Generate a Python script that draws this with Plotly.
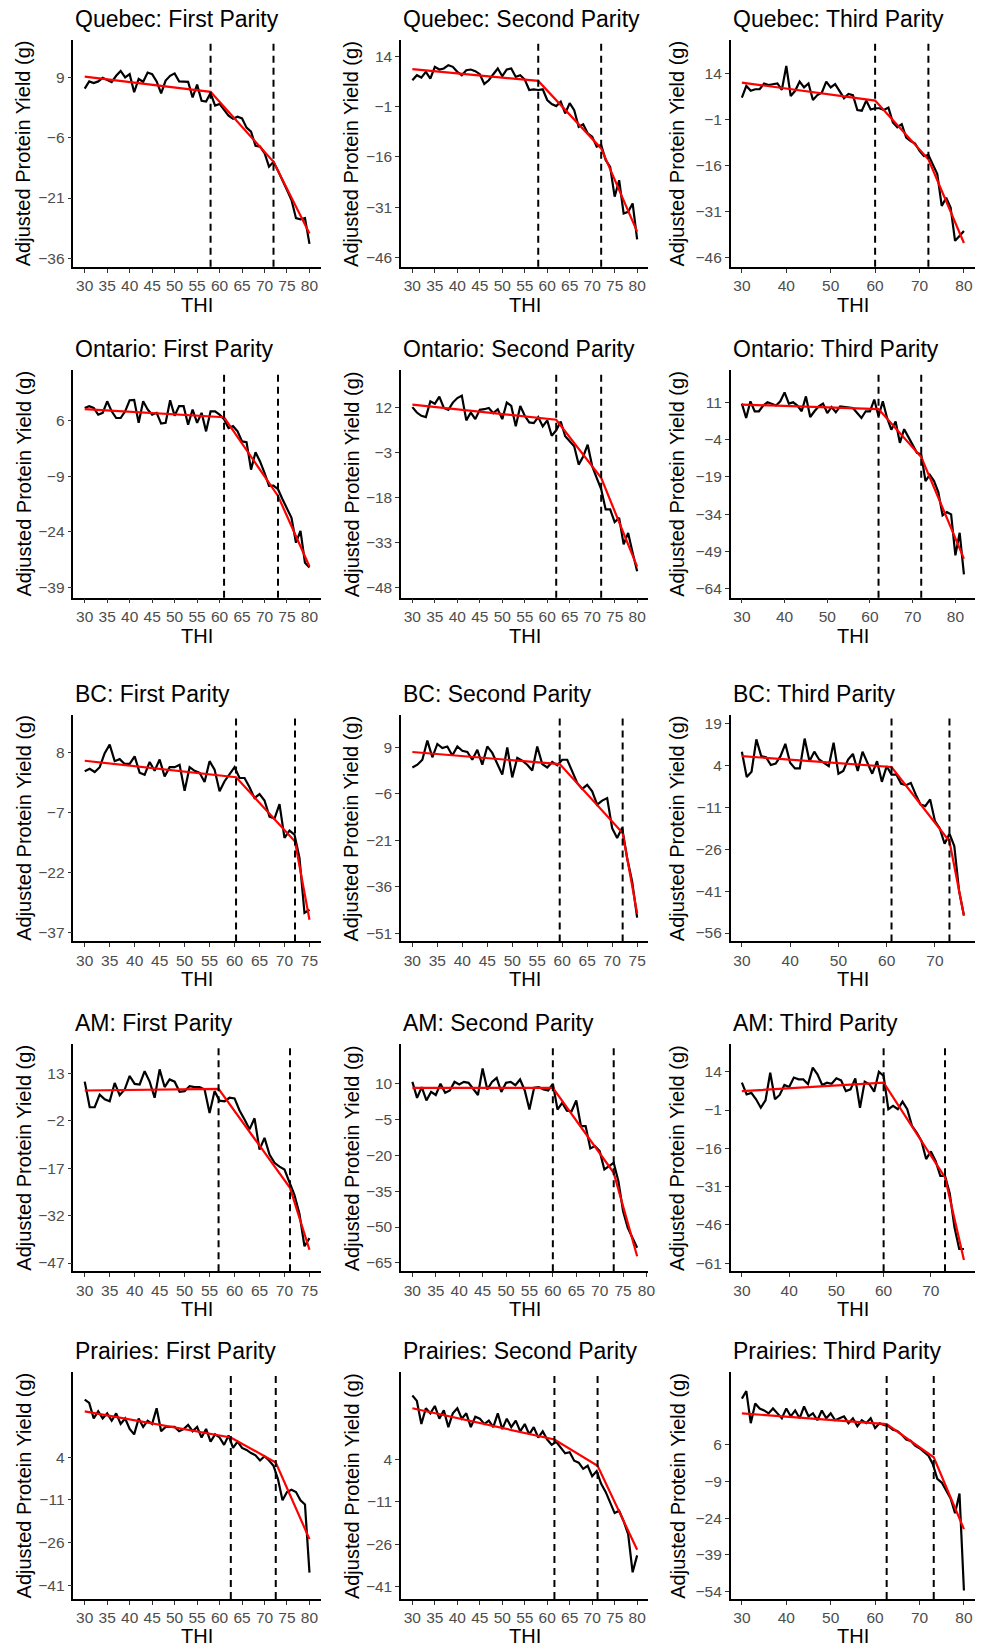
import plotly.graph_objects as go

# ---------------- data ----------------
thi_30_80 = list(range(30, 81))
thi_30_82 = list(range(30, 83))
thi_30_75 = list(range(30, 76))
thi_30_76 = list(range(30, 77))
thi_30_77 = list(range(30, 78))
thi_30_78 = list(range(30, 79))

titles = ["Quebec: First Parity", "Quebec: Second Parity", "Quebec: Third Parity",
          "Ontario: First Parity", "Ontario: Second Parity", "Ontario: Third Parity",
          "BC: First Parity", "BC: Second Parity", "BC: Third Parity",
          "AM: First Parity", "AM: Second Parity", "AM: Third Parity",
          "Prairies: First Parity", "Prairies: Second Parity", "Prairies: Third Parity"]

quebec_first = [6.2, 8.0, 7.6, 8.0, 8.9, 8.4, 7.8, 9.4, 10.6, 9.0,
                9.8, 5.3, 8.6, 7.9, 10.2, 9.8, 8.0, 5.0, 8.2, 9.4,
                10.0, 8.0, 8.0, 7.9, 4.0, 7.2, 3.2, 3.0, 5.1, 2.0,
                2.4, 1.0, -0.5, -1.3, -0.8, -1.2, -3.5, -4.5, -8.0, -8.2,
                -9.8, -13.2, -12.0, -14.2, -16.8, -19.0, -21.5, -26.0, -26.3, -26.0, -32.4]
quebec_second = [6.8, 8.3, 7.6, 9.3, 7.3, 10.8, 10.0, 10.3, 11.3, 10.8,
                 9.3, 8.3, 9.8, 10.0, 9.5, 8.6, 5.7, 6.8, 8.6, 10.3,
                 8.0, 10.0, 10.3, 7.8, 8.3, 7.0, 3.9, 4.1, 3.9, 4.1,
                 0.9, -0.3, -0.9, 0.4, -3.1, 0.0, -2.1, -7.1, -6.3, -9.0,
                 -10.0, -13.0, -12.5, -17.0, -19.0, -27.9, -23.0, -32.9, -32.4, -29.9, -40.6]
quebec_third = [6.3, 10.1, 8.5, 9.0, 9.0, 10.9, 10.4, 10.7, 10.9, 8.8,
                16.6, 6.8, 8.5, 11.5, 9.6, 10.9, 5.5, 7.1, 7.9, 11.5,
                9.6, 10.7, 8.2, 6.1, 7.5, 7.1, 2.2, 2.0, 5.3, 2.4,
                2.8, 2.8, 2.2, 3.0, -1.8, -3.4, -2.4, -6.8, -7.9, -8.7,
                -11.1, -12.8, -12.5, -15.5, -18.7, -29.1, -26.4, -29.6, -40.5, -38.9, -37.3]
ontario_first = [9.4, 9.9, 9.4, 7.6, 8.1, 11.2, 8.5, 6.7, 6.7, 8.5,
                 11.5, 11.6, 5.4, 11.2, 9.0, 7.6, 8.1, 5.2, 5.4, 11.5,
                 7.3, 9.9, 9.9, 4.9, 9.0, 5.4, 8.1, 3.1, 8.5, 8.5,
                 7.6, 6.4, 4.0, 4.5, 3.1, 0.4, 0.2, -7.2, -2.5, -5.0,
                 -8.1, -11.6, -11.5, -12.5, -15.2, -17.9, -20.2, -26.9, -23.7, -32.3, -33.6]
ontario_second = [12.0, 10.2, 9.1, 8.7, 13.9, 13.1, 15.5, 11.7, 11.1, 13.5,
                  15.0, 15.8, 7.6, 10.2, 8.0, 11.1, 11.3, 11.7, 10.0, 11.3,
                  8.0, 13.5, 12.4, 5.6, 12.4, 9.1, 6.9, 6.7, 8.7, 5.6,
                  7.6, 2.5, 4.3, 7.2, 2.3, 0.6, -1.0, -7.1, -4.4, -0.5,
                  -7.6, -11.5, -15.2, -22.0, -22.0, -26.2, -24.8, -33.6, -29.8, -36.4, -42.5]
ontario_third = [10.5, 4.7, 11.4, 7.4, 7.4, 9.7, 11.0, 10.5, 9.7, 11.4,
                 15.0, 10.5, 11.0, 9.7, 7.4, 13.4, 5.1, 7.4, 9.4, 10.5,
                 6.7, 9.1, 7.0, 9.4, 9.1, 9.1, 8.7, 6.7, 4.7, 7.4,
                 7.4, 12.1, 5.4, 11.4, 4.7, 0.0, 3.3, -5.3, 0.2, -3.0,
                 -6.0, -9.3, -10.0, -20.7, -18.1, -20.7, -25.1, -34.5, -33.2, -34.1,
                 -50.6, -41.5, -58.2]
bc_first = [3.3, 3.9, 3.1, 4.3, 7.8, 9.9, 5.8, 6.3, 5.1, 5.1,
            7.0, 2.9, 2.4, 5.6, 3.4, 6.2, 2.0, 4.3, 4.3, 4.9,
            -1.6, 4.3, 3.4, 2.9, 0.6, 5.8, 3.7, -1.7, 0.8, 2.4,
            4.3, 1.6, 1.6, -0.7, -3.4, -2.4, -4.0, -8.0, -8.5, -4.9,
            -13.3, -11.5, -12.5, -18.3, -32.0, -31.2]
bc_second = [2.5, 3.4, 5.0, 11.2, 5.8, 10.1, 8.8, 9.3, 6.4, 9.3,
             7.9, 7.5, 5.0, 8.2, 3.4, 9.3, 7.2, 3.9, 0.2, 9.0,
             -0.7, 5.6, 4.7, 3.4, 1.5, 9.3, 3.6, 2.5, 4.3, 3.2,
             5.0, 5.0, 1.0, -2.5, -4.4, -3.1, -5.2, -9.5, -8.2, -7.4,
             -17.1, -20.3, -17.0, -26.8, -34.3, -46.0]
bc_third = [9.0, -0.1, 1.8, 13.4, 7.4, 7.0, 4.2, 4.7, 7.4, 11.8,
            5.0, 3.0, 3.0, 13.7, 5.6, 9.0, 6.2, 5.0, 3.8, 12.2,
            1.1, 2.1, 6.2, 8.2, 2.1, 9.0, 4.7, 1.1, 5.6, -1.8,
            3.8, 0.8, 0.8, -2.5, -3.0, -2.2, -6.3, -9.9, -10.5, -8.1,
            -15.9, -18.5, -24.0, -20.4, -24.8, -41.0, -49.7]
am_first = [10.4, 2.3, 2.3, 6.3, 4.8, 4.2, 10.0, 6.1, 7.9, 12.2,
            9.7, 9.5, 13.7, 10.4, 5.3, 14.3, 8.7, 11.1, 10.4, 7.2,
            7.4, 9.0, 8.7, 8.7, 7.9, 0.5, 7.4, 4.4, 4.2, 5.3,
            5.1, 1.3, -1.6, -4.7, -1.2, -11.1, -7.4, -12.7, -15.3, -16.5,
            -17.4, -21.6, -25.5, -31.5, -41.7, -39.1]
am_second = [10.8, 4.1, 8.6, 3.0, 6.6, 5.3, 10.0, 6.2, 7.2, 10.8,
             9.7, 10.8, 10.4, 7.6, 5.3, 16.4, 7.6, 10.8, 12.5, 6.6,
             10.4, 10.8, 9.4, 11.8, 7.2, -0.8, 8.3, 8.6, 7.6, 7.2,
             10.0, -0.8, 2.0, -1.3, -1.5, 3.0, -7.7, -7.7, -17.1, -16.1,
             -18.2, -25.9, -24.5, -23.1, -30.8, -43.4, -50.3, -54.5, -58.7]
am_third = [9.7, 5.1, 5.7, 3.2, -0.1, 2.8, 13.6, 3.2, 4.9, 8.8,
            8.0, 11.7, 11.0, 11.0, 9.1, 15.6, 13.0, 8.8, 9.7, 9.3,
            11.4, 10.6, 6.4, 7.1, 11.4, -0.1, 10.1, 9.1, 6.2, 14.0,
            12.3, -0.7, 0.6, -0.7, 2.3, -0.7, -7.2, -9.8, -13.1, -20.2,
            -17.2, -20.9, -26.8, -26.8, -33.7, -46.9, -55.4, -55.4]
prairies_first = [24.3, 23.2, 17.7, 20.2, 17.7, 19.5, 16.9, 19.5, 15.8, 17.7,
                  14.0, 12.1, 17.7, 14.7, 16.9, 15.8, 21.3, 13.2, 14.7, 14.7,
                  14.7, 13.2, 14.0, 15.4, 13.2, 14.7, 11.0, 14.0, 9.5, 12.1,
                  11.0, 8.4, 11.7, 7.3, 9.5, 7.3, 6.6, 5.5, 4.7, 2.9,
                  4.4, 2.9, 1.0, -3.7, -11.1, -8.2, -7.4, -8.2, -11.1, -12.6, -36.6]
prairies_second = [26.7, 24.8, 16.6, 22.2, 20.4, 23.0, 18.5, 21.5, 15.5, 20.4,
                   22.2, 18.5, 20.4, 15.5, 19.2, 18.5, 16.6, 17.8, 15.5, 20.4,
                   14.8, 18.5, 15.5, 17.8, 14.0, 16.6, 12.9, 15.5, 11.8, 14.0,
                   11.1, 9.2, 10.3, 8.1, 6.2, 6.6, 3.6, 2.9, 0.7, 1.8,
                   -1.9, -0.1, -4.6, -7.5, -11.2, -15.0, -14.2, -17.9, -22.5, -36.0, -30.0]
prairies_third = [24.7, 27.8, 14.7, 22.7, 20.7, 19.9, 18.7, 20.7, 18.7, 16.7,
                  20.7, 17.5, 19.9, 16.7, 21.5, 17.5, 18.7, 15.9, 19.9, 16.7,
                  18.7, 15.9, 16.7, 17.5, 14.7, 16.7, 13.5, 15.9, 14.7, 16.7,
                  12.7, 14.7, 14.0, 13.5, 12.0, 11.5, 10.0, 8.0, 7.5, 5.5,
                  4.5, 3.0, 1.5, -2.0, -8.0, -9.5, -13.0, -16.0, -22.0, -14.0, -53.5]

# segmented fit: THI knots (start, break 1, break 2, end) and fitted values
fit_x = {
    "quebec_first": [30, 58, 72, 80], "quebec_second": [30, 58, 72, 80], "quebec_third": [30, 60, 72, 80],
    "ontario_first": [30, 61, 73, 80], "ontario_second": [30, 62, 72, 80], "ontario_third": [30, 62, 72, 82],
    "bc_first": [30, 60.3, 72.1, 75], "bc_second": [30, 59.5, 72.1, 75], "bc_third": [30, 61, 73, 76],
    "am_first": [30, 56.8, 71.1, 75], "am_second": [30, 60, 73, 78], "am_third": [30, 60, 73, 77],
    "prairies_first": [30, 62.5, 72.5, 80], "prairies_second": [30, 61.6, 71.2, 80], "prairies_third": [30, 62.6, 73.2, 80],
}
fit_y = {
    "quebec_first": [9.2, 5.4, -12.0, -29.8], "quebec_second": [10.1, 6.6, -13.5, -38.3], "quebec_third": [11.2, 5.3, -13.9, -41.2],
    "ontario_first": [9.1, 6.9, -14.3, -33.3], "ontario_second": [12.8, 7.8, -11.5, -41.0], "ontario_third": [10.1, 8.3, -11.0, -51.9],
    "bc_first": [5.9, 1.8, -14.2, -33.7], "bc_second": [7.5, 3.6, -18.7, -44.6], "bc_third": [7.4, 3.5, -23.1, -49.7],
    "am_first": [7.6, 8.1, -23.2, -42.8], "am_second": [8.3, 8.3, -27.3, -62.2], "am_third": [6.4, 9.7, -27.4, -59.7],
    "prairies_first": [20.2, 11.0, 2.2, -24.8], "prairies_second": [22.2, 11.1, 1.8, -28.0], "prairies_third": [18.7, 14.3, 0.8, -28.5],
}

y_ticks = {
    "quebec_first": [9, -6, -21, -36], "quebec_second": [14, -1, -16, -31, -46], "quebec_third": [14, -1, -16, -31, -46],
    "ontario_first": [6, -9, -24, -39], "ontario_second": [12, -3, -18, -33, -48], "ontario_third": [11, -4, -19, -34, -49, -64],
    "bc_first": [8, -7, -22, -37], "bc_second": [9, -6, -21, -36, -51], "bc_third": [19, 4, -11, -26, -41, -56],
    "am_first": [13, -2, -17, -32, -47], "am_second": [10, -5, -20, -35, -50, -65], "am_third": [14, -1, -16, -31, -46, -61],
    "prairies_first": [4, -11, -26, -41], "prairies_second": [4, -11, -26, -41], "prairies_third": [6, -9, -24, -39, -54],
}
y_limits = {
    "quebec_first": [-38.1, 18.3], "quebec_second": [-48.8, 18.8], "quebec_third": [-49.0, 25.1],
    "ontario_first": [-41.7, 19.7], "ontario_second": [-51.3, 24.4], "ontario_third": [-67.6, 24.1],
    "bc_first": [-39.1, 17.4], "bc_second": [-53.7, 19.6], "bc_third": [-59.0, 22.3],
    "am_first": [-49.6, 22.2], "am_second": [-68.5, 26.5], "am_third": [-64.1, 24.7],
    "prairies_first": [-45.9, 34.0], "prairies_second": [-45.5, 35.0], "prairies_third": [-57.0, 35.5],
}
x_ticks_5_80 = [30, 35, 40, 45, 50, 55, 60, 65, 70, 75, 80]
x_ticks_5_75 = [30, 35, 40, 45, 50, 55, 60, 65, 70, 75]
x_ticks_10_80 = [30, 40, 50, 60, 70, 80]
x_ticks_10_70 = [30, 40, 50, 60, 70]

panels = [
    ("quebec_first", thi_30_80, quebec_first, x_ticks_5_80),
    ("quebec_second", thi_30_80, quebec_second, x_ticks_5_80),
    ("quebec_third", thi_30_80, quebec_third, x_ticks_10_80),
    ("ontario_first", thi_30_80, ontario_first, x_ticks_5_80),
    ("ontario_second", thi_30_80, ontario_second, x_ticks_5_80),
    ("ontario_third", thi_30_82, ontario_third, x_ticks_10_80),
    ("bc_first", thi_30_75, bc_first, x_ticks_5_75),
    ("bc_second", thi_30_75, bc_second, x_ticks_5_75),
    ("bc_third", thi_30_76, bc_third, x_ticks_10_70),
    ("am_first", thi_30_75, am_first, x_ticks_5_75),
    ("am_second", thi_30_78, am_second, x_ticks_5_80),
    ("am_third", thi_30_77, am_third, x_ticks_10_70),
    ("prairies_first", thi_30_80, prairies_first, x_ticks_5_80),
    ("prairies_second", thi_30_80, prairies_second, x_ticks_5_80),
    ("prairies_third", thi_30_80, prairies_third, x_ticks_10_80),
]

# ---------------- layout (pixels) ----------------
W, H = 987, 1650
col_px = [(74, 323), (404, 653), (736, 982)]
row_px = [(40, 267), (370, 598), (715, 942), (1045, 1272), (1373, 1600)]
thi_offset = [38, 38, 38, 38, 37]
ytitle_x = [24, 354, 682]

FONT = "Liberation Sans, Arial, sans-serif"


def fx(px):
    return px / W


def fy(py):
    return 1 - py / H


def fmt(v):
    return ("\u2212" + str(abs(v))) if v < 0 else str(v)


fig = go.Figure()
layout = dict(
    width=W, height=H, margin=dict(l=0, r=0, t=0, b=0),
    paper_bgcolor="white", plot_bgcolor="white", showlegend=False,
    font=dict(family=FONT, color="black"),
)
shapes = []
annotations = []

for i, (key, xs, ys, xt) in enumerate(panels):
    r, c = divmod(i, 3)
    sfx = "" if i == 0 else str(i + 1)
    xa, ya = "x" + sfx, "y" + sfx
    x0p, x1p = col_px[c]
    y0p, y1p = row_px[r]
    xmin, xmax = xs[0], xs[-1]
    pad = 0.05 * (xmax - xmin)

    fig.add_trace(go.Scatter(x=xs, y=ys, mode="lines", xaxis=xa, yaxis=ya,
                             line=dict(color="black", width=2.2), hoverinfo="skip"))
    fig.add_trace(go.Scatter(x=fit_x[key], y=fit_y[key], mode="lines", xaxis=xa, yaxis=ya,
                             line=dict(color="#FF0000", width=2.2), hoverinfo="skip"))

    axis_common = dict(showline=True, linecolor="black", linewidth=1.7, showgrid=False,
                       zeroline=False, ticks="outside", ticklen=4, tickwidth=1.3,
                       tickcolor="#333333", tickfont=dict(family=FONT, size=15.5, color="#4D4D4D"))
    layout["xaxis" + sfx] = dict(axis_common, domain=[fx(x0p), fx(x1p)], anchor=ya,
                                 range=[xmin - pad, xmax + pad], tickvals=xt,
                                 ticktext=[str(v) for v in xt])
    layout["yaxis" + sfx] = dict(axis_common, domain=[fy(y1p), fy(y0p)], anchor=xa,
                                 range=y_limits[key], tickvals=y_ticks[key],
                                 ticktext=[fmt(v) for v in y_ticks[key]])

    for bx in fit_x[key][1:3]:
        shapes.append(dict(type="line", xref=xa, yref=ya + " domain", x0=bx, x1=bx, y0=0, y1=1,
                           line=dict(color="black", width=2, dash="7px,5px")))

    annotations.append(dict(text=titles[i], xref="paper", yref="paper", x=fx(x0p), y=fy(y0p - 21),
                            xanchor="left", yanchor="middle", showarrow=False,
                            font=dict(family=FONT, size=23, color="black")))
    annotations.append(dict(text="Adjusted Protein Yield (g)", xref="paper", yref="paper",
                            x=fx(ytitle_x[c]), y=fy((y0p + y1p) / 2), textangle=-90,
                            xanchor="center", yanchor="middle", showarrow=False,
                            font=dict(family=FONT, size=20, color="black")))
    annotations.append(dict(text="THI", xref="paper", yref="paper",
                            x=fx((x0p + x1p) / 2), y=fy(y1p + thi_offset[r]),
                            xanchor="center", yanchor="middle", showarrow=False,
                            font=dict(family=FONT, size=20, color="black")))

layout["shapes"] = shapes
layout["annotations"] = annotations
fig.update_layout(**layout)
fig.write_html("out.html", config={"displayModeBar": False},
               post_script="document.body.style.margin='0px';document.body.style.overflow='hidden';")
